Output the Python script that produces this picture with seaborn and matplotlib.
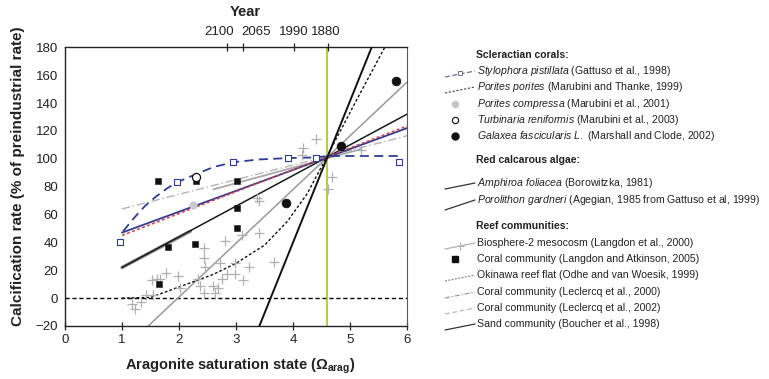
import matplotlib
matplotlib.use("Agg")
import matplotlib.pyplot as plt
import seaborn as sns

sns.set_theme(style="white")
plt.rcParams["font.family"] = ["Liberation Sans", "DejaVu Sans"]
plt.rcParams["mathtext.fontset"] = "custom"
plt.rcParams["mathtext.rm"] = "Liberation Sans"
plt.rcParams["mathtext.it"] = "Liberation Sans:italic"
plt.rcParams["mathtext.bf"] = "Liberation Sans:bold"

# ---------------- data ----------------
omega_preindustrial = 4.6
year_tick_omega = [2.84, 3.13, 4.02, 4.61]
year_label_omega = [2.70, 3.35, 4.02, 4.58]
year_tick_labels = ["2100", "2065", "1990", "1880"]

# Scleractian corals
stylophora_fit_x = [1.02, 1.2, 1.4, 1.6, 1.8, 1.96, 2.3, 2.6, 2.95, 3.4, 3.91, 4.41, 4.6, 5.2, 5.88]
stylophora_fit_y = [48, 57, 66, 73, 79, 83, 89, 94, 97.5, 99.5, 100.5, 101, 102, 102, 102]
stylophora_obs_x = [0.97, 1.96, 2.95, 3.91, 4.41, 5.86]
stylophora_obs_y = [40, 83, 97.6, 100.5, 100.5, 97.6]

porites_porites_x = [1.0, 6.0]
porites_porites_y = [45, 123.5]

porites_compressa_x = [2.25]
porites_compressa_y = [67]

turbinaria_x = [2.3]
turbinaria_y = [87]

galaxea_x = [3.88, 4.85, 5.8]
galaxea_y = [68, 109, 156]

# Red calcareous algae
amphiroa_x = [1.0, 6.0]
amphiroa_y = [47, 122]

porolithon_x = [3.41, 5.38]
porolithon_y = [-20, 180]

# Reef communities
biosphere_x = [1.17, 1.23, 1.34, 1.42, 1.55, 1.52, 1.62, 1.67, 1.77, 1.99, 2.02, 2.43, 2.44,
               2.46, 2.34, 2.37, 2.43, 2.6, 2.63, 2.69, 2.72, 2.75, 2.81, 2.84, 2.98, 2.99,
               3.12, 3.1, 3.23, 3.41, 3.67, 3.37, 3.40, 4.18, 4.4, 4.15, 4.68, 4.62, 5.2]
biosphere_y = [-4, -8, -3, 2, 2, 13, 14, 14, 18, 16, 7, 36, 29,
               22, 14, 9, 4, 9, 4, 7, 25, 14, 41, 17, 17, 25,
               13, 45, 22, 47, 26, 72, 70, 108, 114, 103, 87, 78, 106]
biosphere_fit_x = [2.6, 5.2]
biosphere_fit_y = [78, 107]

langdon_x = [1.64, 2.3, 3.02, 3.02, 3.02, 1.81, 2.28, 1.65]
langdon_y = [84, 84, 84, 65, 50, 36.6, 38.5, 9.8]

okinawa_x = [1.0, 1.5, 1.8, 2.2, 2.6, 3.0, 3.5, 3.9, 4.25, 4.6, 5.1, 5.61]
okinawa_y = [0, 0.5, 5, 11, 17, 25, 38, 55, 75, 102, 141, 180]

leclercq2000_x = [1.46, 6.0]
leclercq2000_y = [-20, 155]

leclercq2002_x = [1.0, 6.0]
leclercq2002_y = [64, 116.5]

sand_x = [1.0, 6.0]
sand_y = [22, 132]
sand_low_x = [1.0, 2.2]
sand_low_y = [22, 48]

# ---------------- figure ----------------
fig = plt.figure(figsize=(7.69, 3.79), dpi=100)
ax = fig.add_axes([65 / 769, 1 - 326 / 379, (407 - 65) / 769, (326 - 47.3) / 379])

blue = "#2f3c92"
grey = "#9a9a9a"
ink = "#222222"

ax.axhline(0, color="black", lw=1.0, ls=(0, (3, 2)), zorder=1)
ax.axvline(omega_preindustrial, color="#8fc31f", lw=1.1, zorder=1)

sns.lineplot(x=leclercq2002_x, y=leclercq2002_y, ax=ax, color="#b5b5b5", lw=1.0,
             ls=(0, (6, 2, 1, 2)), zorder=2)
sns.lineplot(x=biosphere_fit_x, y=biosphere_fit_y, ax=ax, color="#a8a8a8", lw=1.3, zorder=2)
sns.lineplot(x=leclercq2000_x, y=leclercq2000_y, ax=ax, color=grey, lw=1.1, zorder=2)
sns.lineplot(x=sand_low_x, y=sand_low_y, ax=ax, color="#8a8a8a", lw=2.4, zorder=2)
sns.lineplot(x=sand_x, y=sand_y, ax=ax, color="#1a1a1a", lw=1.1, zorder=3)
sns.lineplot(x=amphiroa_x, y=amphiroa_y, ax=ax, color=blue, lw=1.3, zorder=3)
sns.lineplot(x=porites_porites_x, y=porites_porites_y, ax=ax, color="#d9434a", lw=1.1,
             ls=(0, (2, 1.5)), zorder=3)
sns.lineplot(x=okinawa_x, y=okinawa_y, ax=ax, color="#111111", lw=1.0, ls=(0, (2, 1.5)),
             sort=False, zorder=3)
sns.lineplot(x=porolithon_x, y=porolithon_y, ax=ax, color="#111111", lw=1.4, zorder=3)
sns.lineplot(x=stylophora_fit_x, y=stylophora_fit_y, ax=ax, color=blue, lw=1.3,
             ls=(0, (5, 3)), sort=False, zorder=3)

sns.scatterplot(x=biosphere_x, y=biosphere_y, ax=ax, marker="+", color="#b0b0b0", s=45,
                linewidth=0.9, zorder=4)
sns.scatterplot(x=stylophora_obs_x, y=stylophora_obs_y, ax=ax, marker="s", s=16,
                facecolor="white", edgecolor=blue, linewidth=0.8, zorder=5)
sns.scatterplot(x=langdon_x, y=langdon_y, ax=ax, marker="s", s=22, color="#111111",
                edgecolor="#111111", zorder=5)
sns.scatterplot(x=porites_compressa_x, y=porites_compressa_y, ax=ax, marker="o", s=30,
                color="#c9c9d4", edgecolor="#c9c9d4", zorder=5)
sns.scatterplot(x=turbinaria_x, y=turbinaria_y, ax=ax, marker="o", s=34, facecolor="white",
                edgecolor="#111111", linewidth=0.9, zorder=6)
sns.scatterplot(x=galaxea_x, y=galaxea_y, ax=ax, marker="o", s=40, color="#111111",
                edgecolor="#111111", zorder=6)

ax.set_xlim(0, 6)
ax.set_ylim(-20, 180)
ax.set_xticks(range(0, 7))
ax.set_yticks(range(-20, 181, 20))
ax.tick_params(axis="both", direction="inout", length=6, width=0.9, labelsize=9.5,
               colors=ink, pad=3)
ax.tick_params(axis="y", pad=2)
for side, sp in ax.spines.items():
    sp.set_color(ink)
    sp.set_linewidth(1.0)
ax.spines["right"].set_color("#555577")
ax.spines["right"].set_linewidth(0.8)

# Year axis along the top: tick marks at the omega values, labels nudged apart
top = ax.twiny()
top.set_xlim(0, 6)
top.set_xticks(year_tick_omega)
top.set_xticklabels([])
top.tick_params(axis="x", direction="inout", length=6, width=0.9, colors=ink)
for sp in top.spines.values():
    sp.set_visible(False)
top.grid(False)
for xv, lab in zip(year_label_omega, year_tick_labels):
    top.text(xv, 1.035, lab, transform=top.get_xaxis_transform(), ha="center",
             va="bottom", fontsize=9.5, color=ink)

fig.text(245 / 769, 1 - 12 / 379, "Year", ha="center", va="center", fontsize=10.5,
         fontweight="bold", color=ink)
fig.text(240 / 769, 1 - 366 / 379, r"Aragonite saturation state ($\mathbf{\Omega_{arag}}$)",
         ha="center", va="center", fontsize=10.5, fontweight="bold", color=ink)
fig.text(18 / 769, 1 - 176 / 379, "Calcification rate (% of preindustrial rate)",
         ha="center", va="center", rotation=90, fontsize=11, fontweight="bold",
         color=ink)

# ---------------- key ----------------
lax = fig.add_axes([440 / 769, 0, 329 / 769, 1])
lax.set_xlim(440, 769)
lax.set_ylim(379, 0)
lax.axis("off")

headers = ["Scleractian corals:", "Red calcarous algae:", "Reef communities:"]
header_y = [55, 160, 226]
for h, yy in zip(headers, header_y):
    lax.text(476, yy, h, fontsize=7.5, fontweight="bold", va="center", ha="left",
             color=ink)

entries = [
    (r"$\mathit{Stylophora\ pistillata}$ (Gattuso et al., 1998)", 71),
    (r"$\mathit{Porites\ porites}$ (Marubini and Thanke, 1999)", 87),
    (r"$\mathit{Porites\ compressa}$ (Marubini et al., 2001)", 104),
    (r"$\mathit{Turbinaria\ reniformis}$ (Marubini et al., 2003)", 120),
    (r"$\mathit{Galaxea\ fascicularis\ L.}$ (Marshall and Clode, 2002)", 136),
    (r"$\mathit{Amphiroa\ foliacea}$ (Borowitzka, 1981)", 183),
    (r"$\mathit{Porolithon\ gardneri}$ (Agegian, 1985 from Gattuso et al, 1999)", 200),
    ("Biosphere-2 mesocosm (Langdon et al., 2000)", 243),
    ("Coral community (Langdon and Atkinson, 2005)", 259),
    ("Okinawa reef flat (Odhe and van Woesik, 1999)", 275),
    ("Coral community (Leclercq et al., 2000)", 292),
    ("Coral community (Leclercq et al., 2002)", 308),
    ("Sand community (Boucher et al., 1998)", 324),
]
for label, yy in entries:
    lax.text(477, yy, label, fontsize=7.6, va="center", ha="left", color=ink)

def sample(yy, **kw):
    lax.plot([445, 475], [yy + 6, yy], **kw)

sample(71, color="#6a6f9a", lw=0.9, ls=(0, (4, 2)))
lax.plot([460], [73], marker="s", ms=3.5, mfc="white", mec="#6a6f9a", mew=0.7)
sample(87, color="#444444", lw=0.8, ls=(0, (2, 1.5)))
lax.plot([455], [104], marker="o", ms=4.5, color="#c6c6c6")
lax.plot([455], [120], marker="o", ms=4.5, mfc="white", mec="#222222", mew=0.9)
lax.plot([455], [136], marker="o", ms=5, color="#111111")
sample(183, color="#333333", lw=0.9)
lax.plot([445, 475], [210, 200], color="#333333", lw=0.9)
sample(243, color="#b0b0b0", lw=0.9)
lax.plot([460], [245.5], marker="+", ms=6, color="#b0b0b0", mew=0.8)
lax.plot([455], [259], marker="s", ms=3.8, color="#111111")
sample(275, color="#888888", lw=0.9, ls=(0, (1.5, 1.2)))
sample(292, color="#9a9a9a", lw=0.9, ls=(0, (4, 1.5, 1, 1.5)))
sample(308, color="#bbbbbb", lw=0.9, ls=(0, (4, 2)))
sample(324, color="#333333", lw=0.9)

fig.savefig("out.png", dpi=100)
